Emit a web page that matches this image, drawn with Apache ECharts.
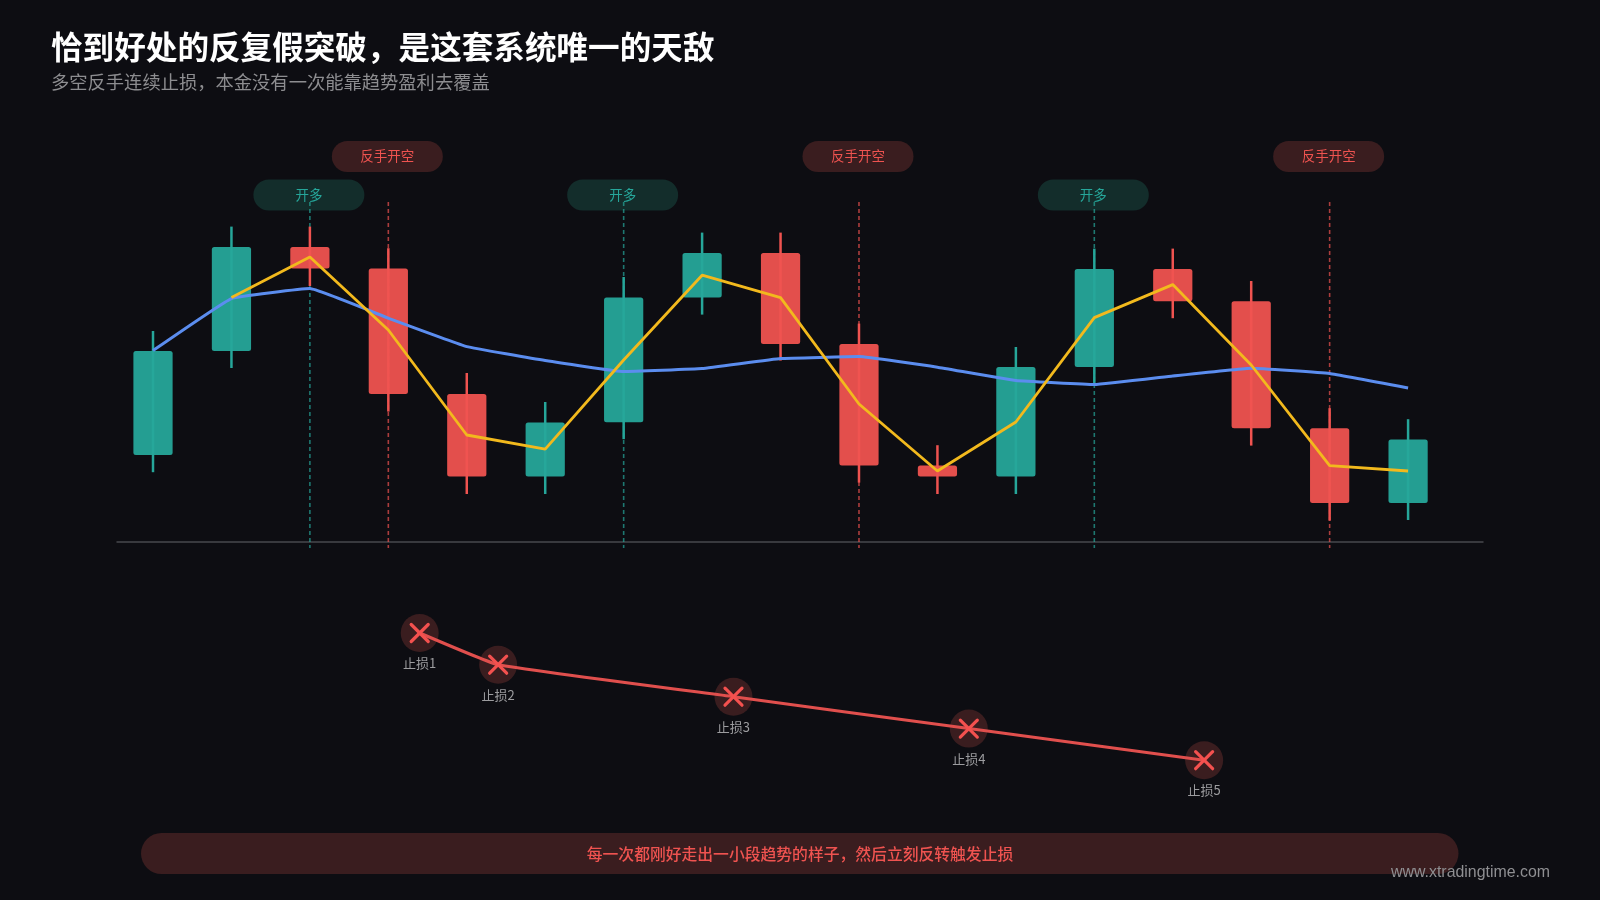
<!DOCTYPE html>
<html>
<head>
<meta charset="utf-8">
<style>html,body{margin:0;padding:0;background:#0d0d12}#c{width:1600px;height:900px}</style>
<script src="https://cdn.jsdelivr.net/npm/echarts@6/dist/echarts.min.js"></script>
</head>
<body>
<div id="c"></div>
<script>
const openValues  = [43.5,95.5,147.5,136.7,74,32.7,59.9,122.3,144.5,99,38.2,32.7,87.5,136.5,120.4,56.9,19.5];
const closeValues = [95.5,147.5,136.7,74,32.7,59.7,122.3,144.5,99,38.2,32.7,87.5,136.5,120.4,56.9,19.5,51.2];
const lowValues   = [34.9,87,128,65.2,24,24,51.4,113.7,90.7,29.7,24,24,78.5,111.9,48.2,10.7,11];
const highValues  = [105.5,157.7,157.7,146.9,84.5,70,132.5,154.7,154.7,109.2,48.4,97.5,146.7,146.7,130.5,66.9,61.4];
const fastLine = [null,122.2,142.5,106,53.5,46.4,91,133.4,122.2,69,35.5,60,112.2,128.7,88.5,38.2,35.5];
const slowLine = [95.7,121.7,126.7,111.9,97.7,90.7,85.2,86.7,91.7,92.7,87.4,80.7,78.7,83,86.9,84.2,77];
const longEntries  = [2,6,12];
const shortEntries = [3,9,15];
const longLabel = '开多';
const shortLabel = '反手开空';
const stopPositions = [3.4,4.4,7.4,10.4,13.4];
const stopEquity = [83.5,67.65,51.65,35.7,19.9];
const stopLabels = ['止损1','止损2','止损3','止损4','止损5'];
const titleText = '恰到好处的反复假突破，是这套系统唯一的天敌';
const subtitleText = '多空反手连续止损，本金没有一次能靠趋势盈利去覆盖';
const bannerText = '每一次都刚好走出一小段趋势的样子，然后立刻反转触发止损';
const watermark = 'www.xtradingtime.com';

const GREEN='#26a69a', RED='#ef5350', BG='#0d0d12';
const FONT='"Noto Sans CJK SC","Noto Sans",sans-serif';
const xMin=-0.459, xMax=16.955;

function candleItem(params, api){
  const i=api.value(0), o=api.value(1), c=api.value(2), l=api.value(3), h=api.value(4);
  const col = c>=o ? GREEN : RED;
  const x = api.coord([i,0])[0];
  const w = api.size([1,0])[0]*0.5;
  const yo=api.coord([i,o])[1], yc=api.coord([i,c])[1], yl=api.coord([i,l])[1], yh=api.coord([i,h])[1];
  return {type:'group',children:[
    {type:'line',shape:{x1:x,y1:yh,x2:x,y2:yl},style:{stroke:col,lineWidth:2.5}},
    {type:'rect',shape:{x:x-w/2,y:Math.min(yo,yc),width:w,height:Math.abs(yo-yc),r:2.5},style:{fill:col,opacity:0.95}}
  ]};
}
function signalItem(params, api){
  const i=api.value(0), top=api.value(1), bottom=api.value(2), isShort=api.value(3)===1;
  const p=api.coord([i,top]), q=api.coord([i,bottom]);
  const col=isShort?RED:GREEN;
  const cy=p[1]+(isShort?-45.5:-7);
  return {type:'group',children:[
    {type:'rect',shape:{x:p[0]-56.5,y:cy-15.5,width:111,height:31,r:15.5},
      style:{fill:isShort?'#3a1d1f':'#132d2b'}},
    {type:'text',style:{x:p[0]-1,y:cy-0.5,text:isShort?shortLabel:longLabel,fill:col,font:'13.5px '+FONT,align:'center',verticalAlign:'middle'}},
    {type:'line',shape:{x1:p[0],y1:p[1],x2:q[0],y2:q[1]},
      style:{stroke:col,lineWidth:1.6,lineDash:[4,3],opacity:0.7}}
  ]};
}
function stopCircle(params, api){
  const p=api.coord([api.value(0),api.value(1)]);
  return {type:'group',children:[
    {type:'circle',shape:{cx:p[0],cy:p[1],r:19},style:{fill:'#3a1d1f'}},
    {type:'text',style:{x:p[0],y:p[1]+30,text:stopLabels[params.dataIndex],fill:'#9c9c9f',font:'13px '+FONT,align:'center',verticalAlign:'middle'}}
  ]};
}
function stopCross(params, api){
  const p=api.coord([api.value(0),api.value(1)]);
  const d=8.5, st={stroke:'#f4514f',lineWidth:3.2,lineCap:'round'};
  return {type:'group',children:[
    {type:'line',shape:{x1:p[0]-d,y1:p[1]-d,x2:p[0]+d,y2:p[1]+d},style:st},
    {type:'line',shape:{x1:p[0]-d,y1:p[1]+d,x2:p[0]+d,y2:p[1]-d},style:st}
  ]};
}
const candleData = openValues.map((o,i)=>[i,o,closeValues[i],lowValues[i],highValues[i]]);
const signalData = [...longEntries.map(i=>[i,170,-3,0]),...shortEntries.map(i=>[i,170,-3,1])];
const stopData = stopPositions.map((x,i)=>[x,stopEquity[i]]);
const indexed = arr => arr.map((v,i)=>[i,v]);

const chart = echarts.init(document.getElementById('c'),null,{renderer:'canvas'});
chart.setOption({
  backgroundColor:BG,
  animation:false,
  textStyle:{fontFamily:FONT},
  title:{left:51,top:25,padding:0,text:titleText,subtext:subtitleText,itemGap:1,
    textStyle:{color:'#ffffff',fontSize:31.6,fontWeight:'bold',fontFamily:FONT,lineHeight:44},
    subtextStyle:{color:'#8d8d90',fontSize:18.3,fontFamily:FONT,lineHeight:24}},
  grid:[
    {left:117,right:117,top:202,height:360},
    {left:117,right:117,top:600,height:200}
  ],
  xAxis:[
    {type:'value',gridIndex:0,min:xMin,max:xMax,splitLine:{show:false},axisTick:{show:false},axisLabel:{show:false},
     axisLine:{show:true,onZero:true,lineStyle:{color:'#47484d',width:1.5}}},
    {type:'value',gridIndex:1,min:xMin,max:xMax,show:false}
  ],
  yAxis:[
    {type:'value',gridIndex:0,min:-10,max:170,show:false},
    {type:'value',gridIndex:1,min:0,max:100,show:false}
  ],
  series:[
    {type:'custom',name:'信号',xAxisIndex:0,yAxisIndex:0,z:2,clip:false,renderItem:signalItem,data:signalData,encode:{x:0,y:1}},
    {type:'custom',name:'K线',xAxisIndex:0,yAxisIndex:0,z:3,renderItem:candleItem,data:candleData,encode:{x:0,y:[1,2,3,4]}},
    {type:'line',name:'慢线',xAxisIndex:0,yAxisIndex:0,z:4,data:indexed(slowLine),symbol:'none',smooth:0.08,lineStyle:{color:'#5b8def',width:3}},
    {type:'line',name:'快线',xAxisIndex:0,yAxisIndex:0,z:5,data:indexed(fastLine),symbol:'none',lineStyle:{color:'#f2b91d',width:2.8}},
    {type:'custom',name:'止损底',xAxisIndex:1,yAxisIndex:1,z:2,clip:false,renderItem:stopCircle,data:stopData,encode:{x:0,y:1}},
    {type:'line',name:'本金',xAxisIndex:1,yAxisIndex:1,z:3,data:stopData,symbol:'none',smooth:0.1,lineStyle:{color:'#e04f4d',width:3}},
    {type:'custom',name:'止损',xAxisIndex:1,yAxisIndex:1,z:4,clip:false,renderItem:stopCross,data:stopData,encode:{x:0,y:1}}
  ],
  graphic:[
    {type:'rect',z:1,shape:{x:141,y:833,width:1317.5,height:41,r:20.5},style:{fill:'#3a1d1f'}},
    {type:'text',z:2,style:{x:800,y:854,text:bannerText,fill:RED,font:'500 15.8px '+FONT,align:'center',verticalAlign:'middle'}},
    {type:'text',z:3,style:{x:1550,y:872.5,text:watermark,fill:'#8f8f92',font:'15.9px "Liberation Sans",sans-serif',align:'right',verticalAlign:'middle'}}
  ]
});
</script>
</body>
</html>
